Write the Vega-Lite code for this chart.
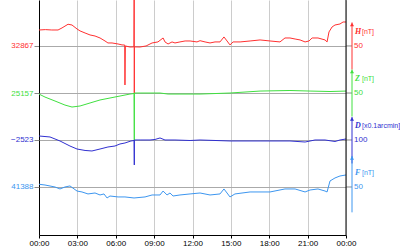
{
  "$schema": "https://vega.github.io/schema/vega-lite/v6.json",
  "width": 307,
  "height": 235,
  "autosize": "none",
  "padding": {"left": 39, "top": 0, "right": 54, "bottom": 15},
  "config": {
    "view": {"stroke": null},
    "font": "Liberation Sans",
    "axis": {"labelFont": "Liberation Sans", "titleFont": "Liberation Sans"}
  },
  "datasets": {
    "H": [
      {"t": 0, "v": 32884.0}, {"t": 0.5, "v": 32884.4}, {"t": 1.0, "v": 32884.0}, {"t": 1.49, "v": 32884.0},
      {"t": 1.8, "v": 32886.2}, {"t": 2.27, "v": 32890.1}, {"t": 2.58, "v": 32889.3}, {"t": 2.97, "v": 32885.1},
      {"t": 3.21, "v": 32883.0}, {"t": 3.6, "v": 32880.8}, {"t": 3.99, "v": 32878.7}, {"t": 4.38, "v": 32877.6},
      {"t": 4.77, "v": 32875.5}, {"t": 5.16, "v": 32872.3}, {"t": 5.39, "v": 32870.2}, {"t": 5.71, "v": 32870.2},
      {"t": 6.18, "v": 32869.1}, {"t": 6.49, "v": 32868.1}, {"t": 6.7, "v": 32868.0}, {"t": 6.72, "v": 32825.5},
      {"t": 6.75, "v": 32867.0}, {"t": 7.11, "v": 32865.9}, {"t": 7.42, "v": 32866.0}, {"t": 7.44, "v": 32925.0},
      {"t": 7.45, "v": 32817.0}, {"t": 7.46, "v": 32866.0}, {"t": 7.9, "v": 32865.9}, {"t": 8.37, "v": 32867.0},
      {"t": 8.84, "v": 32870.2}, {"t": 9.3, "v": 32871.3}, {"t": 9.7, "v": 32875.5}, {"t": 9.85, "v": 32871.3},
      {"t": 10.09, "v": 32869.1}, {"t": 10.4, "v": 32871.3}, {"t": 10.63, "v": 32870.2}, {"t": 11.02, "v": 32871.3},
      {"t": 11.42, "v": 32872.3}, {"t": 11.81, "v": 32872.3}, {"t": 12.35, "v": 32871.3}, {"t": 12.59, "v": 32872.6},
      {"t": 12.98, "v": 32871.3}, {"t": 13.37, "v": 32870.2}, {"t": 13.76, "v": 32871.3}, {"t": 14.15, "v": 32871.3},
      {"t": 14.46, "v": 32876.6}, {"t": 14.7, "v": 32872.3}, {"t": 14.93, "v": 32868.1}, {"t": 15.17, "v": 32871.3},
      {"t": 15.72, "v": 32871.3}, {"t": 16.5, "v": 32872.3}, {"t": 17.28, "v": 32873.4}, {"t": 18.06, "v": 32872.3},
      {"t": 18.84, "v": 32871.3}, {"t": 19.23, "v": 32875.5}, {"t": 19.62, "v": 32875.5}, {"t": 20.02, "v": 32874.4},
      {"t": 20.41, "v": 32873.4}, {"t": 20.8, "v": 32871.3}, {"t": 21.11, "v": 32872.3}, {"t": 21.35, "v": 32875.5},
      {"t": 21.81, "v": 32875.5}, {"t": 22.36, "v": 32873.4}, {"t": 22.52, "v": 32871.3}, {"t": 22.67, "v": 32881.9},
      {"t": 22.91, "v": 32887.2}, {"t": 23.14, "v": 32889.3}, {"t": 23.53, "v": 32890.4}, {"t": 23.77, "v": 32892.5},
      {"t": 24.0, "v": 32892.5}
    ],
    "Z": [
      {"t": 0, "v": 25155.9}, {"t": 0.47, "v": 25152.7}, {"t": 1.25, "v": 25148.5}, {"t": 2.03, "v": 25144.2},
      {"t": 2.58, "v": 25142.1}, {"t": 3.21, "v": 25143.2}, {"t": 3.99, "v": 25146.4}, {"t": 4.77, "v": 25149.6},
      {"t": 5.55, "v": 25151.7}, {"t": 6.33, "v": 25153.8}, {"t": 7.11, "v": 25155.9}, {"t": 7.43, "v": 25156.5},
      {"t": 7.45, "v": 25105.9}, {"t": 7.46, "v": 25157.0}, {"t": 7.9, "v": 25157.0}, {"t": 8.68, "v": 25157.0},
      {"t": 9.46, "v": 25157.0}, {"t": 10.09, "v": 25155.9}, {"t": 11.02, "v": 25155.9}, {"t": 12.59, "v": 25155.9},
      {"t": 14.93, "v": 25157.0}, {"t": 17.28, "v": 25159.1}, {"t": 19.62, "v": 25159.7}, {"t": 21.19, "v": 25159.1},
      {"t": 22.75, "v": 25158.6}, {"t": 24.0, "v": 25159.1}
    ],
    "D": [
      {"t": 0, "v": -2514.5}, {"t": 0.86, "v": -2516.6}, {"t": 1.64, "v": -2525.1}, {"t": 2.42, "v": -2535.8},
      {"t": 2.97, "v": -2542.2}, {"t": 3.6, "v": -2545.3}, {"t": 4.14, "v": -2546.4}, {"t": 4.77, "v": -2542.2},
      {"t": 5.39, "v": -2537.9}, {"t": 5.94, "v": -2535.8}, {"t": 6.33, "v": -2531.5}, {"t": 6.72, "v": -2529.4},
      {"t": 7.19, "v": -2525.1}, {"t": 7.43, "v": -2524.1}, {"t": 7.45, "v": -2576.2}, {"t": 7.46, "v": -2523.0},
      {"t": 7.9, "v": -2523.0}, {"t": 8.68, "v": -2523.0}, {"t": 9.07, "v": -2521.9}, {"t": 9.46, "v": -2518.7},
      {"t": 9.85, "v": -2523.0}, {"t": 10.63, "v": -2523.0}, {"t": 11.81, "v": -2524.1}, {"t": 12.59, "v": -2523.0},
      {"t": 14.93, "v": -2525.1}, {"t": 17.28, "v": -2525.1}, {"t": 19.62, "v": -2525.1}, {"t": 20.8, "v": -2527.3},
      {"t": 21.58, "v": -2523.0}, {"t": 22.36, "v": -2523.0}, {"t": 23.14, "v": -2526.2}, {"t": 23.53, "v": -2523.0},
      {"t": 24.0, "v": -2520.9}
    ],
    "F": [
      {"t": 0, "v": 41390.9}, {"t": 0.47, "v": 41390.1}, {"t": 1.25, "v": 41388.0}, {"t": 1.64, "v": 41385.9},
      {"t": 2.03, "v": 41388.0}, {"t": 2.42, "v": 41389.1}, {"t": 2.97, "v": 41383.7}, {"t": 3.36, "v": 41382.7},
      {"t": 3.83, "v": 41380.6}, {"t": 4.38, "v": 41381.6}, {"t": 4.77, "v": 41379.5}, {"t": 5.08, "v": 41380.6},
      {"t": 5.32, "v": 41376.3}, {"t": 5.55, "v": 41378.4}, {"t": 6.18, "v": 41377.4}, {"t": 6.72, "v": 41377.4},
      {"t": 7.43, "v": 41376.3}, {"t": 8.29, "v": 41377.4}, {"t": 8.84, "v": 41379.5}, {"t": 9.46, "v": 41379.5},
      {"t": 9.7, "v": 41383.7}, {"t": 10.01, "v": 41379.5}, {"t": 10.24, "v": 41381.6}, {"t": 10.48, "v": 41378.4},
      {"t": 11.02, "v": 41379.5}, {"t": 11.81, "v": 41380.6}, {"t": 12.59, "v": 41381.6}, {"t": 13.37, "v": 41379.5},
      {"t": 14.15, "v": 41380.6}, {"t": 14.46, "v": 41385.9}, {"t": 14.7, "v": 41381.6}, {"t": 14.93, "v": 41377.4},
      {"t": 15.32, "v": 41380.6}, {"t": 16.5, "v": 41382.7}, {"t": 18.06, "v": 41382.7}, {"t": 19.23, "v": 41385.9},
      {"t": 20.02, "v": 41385.9}, {"t": 20.8, "v": 41382.7}, {"t": 21.19, "v": 41384.8}, {"t": 21.81, "v": 41385.9},
      {"t": 22.36, "v": 41383.7}, {"t": 22.52, "v": 41382.7}, {"t": 22.75, "v": 41394.4}, {"t": 23.14, "v": 41397.6},
      {"t": 23.53, "v": 41399.7}, {"t": 24.0, "v": 41400.8}
    ]
  },
  "layer": [
    {
      "layer": [
        {
          "data": {"name": "H"},
          "mark": {"type": "line", "color": "#ff3030", "strokeWidth": 1, "clip": true},
          "encoding": {
            "x": {"field": "t", "type": "quantitative", "scale": {"domain": [0, 24], "nice": false, "zero": false},
              "axis": {"values": [0, 3, 6, 9, 12, 15, 18, 21, 24], "tickCount": 24, "labelExpr": "(datum.value % 24 < 10 ? '0' : '') + (datum.value % 24) + ':00'",
                "title": null, "grid": true, "gridColor": "#cccccc", "domainColor": "#000000", "tickColor": "#000000", "tickSize": 3,
                "labelFontSize": 8, "labelColor": "#000000", "labelPadding": 1, "labelFlush": false, "labelOverlap": false}},
            "y": {"field": "v", "type": "quantitative", "scale": {"domain": [32665.9, 32915.9], "nice": false, "zero": false},
              "axis": {"orient": "left", "values": [32867], "format": "d", "title": null, "grid": true, "gridColor": "#aaaaaa",
                "domain": true, "domainColor": "#000000", "tickColor": "#888888", "tickSize": 5, "labelColor": "#ff3030",
                "labelFontSize": 8, "labelPadding": 1}}
          }
        },
        {
          "data": {"values": [{"base": 32867, "lo": 32842, "hi": 32892, "scale": "50", "sym": "H", "unit": "[nT]"}]},
          "layer": [
            {"mark": {"type": "rule", "color": "#888888", "x2Offset": 6, "clip": false},
              "encoding": {"x": {"datum": 24, "type": "quantitative"}, "x2": {"datum": 24}, "y": {"field": "base", "type": "quantitative"}}},
            {"mark": {"type": "rule", "color": "#ff3030", "xOffset": 6, "clip": false},
              "encoding": {"x": {"datum": 24, "type": "quantitative"}, "y": {"field": "lo", "type": "quantitative"}, "y2": {"field": "hi"}}},
            {"mark": {"type": "point", "shape": "triangle-up", "filled": true, "opacity": 1, "size": 16, "color": "#ff3030", "xOffset": 6, "yOffset": 2, "clip": false},
              "encoding": {"x": {"datum": 24, "type": "quantitative"}, "y": {"field": "hi", "type": "quantitative"}}},
            {"mark": {"type": "text", "color": "#ff3030", "align": "left", "baseline": "middle", "dx": 9, "dy": -14, "font": "Liberation Serif", "fontStyle": "italic", "fontWeight": "bold", "fontSize": 8, "clip": false},
              "encoding": {"x": {"datum": 24, "type": "quantitative"}, "y": {"field": "base", "type": "quantitative"}, "text": {"field": "sym"}}},
            {"mark": {"type": "text", "color": "#ff3030", "align": "left", "baseline": "middle", "dx": 16, "dy": -14, "fontSize": 7, "clip": false},
              "encoding": {"x": {"datum": 24, "type": "quantitative"}, "y": {"field": "base", "type": "quantitative"}, "text": {"field": "unit"}}},
            {"mark": {"type": "text", "color": "#ff3030", "align": "left", "baseline": "middle", "dx": 8, "fontSize": 8, "clip": false},
              "encoding": {"x": {"datum": 24, "type": "quantitative"}, "y": {"field": "base", "type": "quantitative"}, "text": {"field": "scale"}}}
          ]
        }
      ]
    },
    {
      "layer": [
        {
          "data": {"name": "Z"},
          "mark": {"type": "line", "color": "#40e040", "strokeWidth": 1, "clip": true},
          "encoding": {
            "x": {"field": "t", "type": "quantitative"},
            "y": {"field": "v", "type": "quantitative", "scale": {"domain": [25005.9, 25256.0], "nice": false, "zero": false},
              "axis": {"orient": "left", "values": [25157], "format": "d", "title": null, "grid": true, "gridColor": "#aaaaaa",
                "domain": false, "tickColor": "#888888", "tickSize": 5, "labelColor": "#40e040", "labelFontSize": 8, "labelPadding": 1}}
          }
        },
        {
          "data": {"values": [{"base": 25157, "lo": 25132, "hi": 25182, "scale": "50", "sym": "Z", "unit": "[nT]"}]},
          "layer": [
            {"mark": {"type": "rule", "color": "#888888", "x2Offset": 6, "clip": false},
              "encoding": {"x": {"datum": 24, "type": "quantitative"}, "x2": {"datum": 24}, "y": {"field": "base", "type": "quantitative"}}},
            {"mark": {"type": "rule", "color": "#40e040", "xOffset": 6, "clip": false},
              "encoding": {"x": {"datum": 24, "type": "quantitative"}, "y": {"field": "lo", "type": "quantitative"}, "y2": {"field": "hi"}}},
            {"mark": {"type": "point", "shape": "triangle-up", "filled": true, "opacity": 1, "size": 16, "color": "#40e040", "xOffset": 6, "yOffset": 2, "clip": false},
              "encoding": {"x": {"datum": 24, "type": "quantitative"}, "y": {"field": "hi", "type": "quantitative"}}},
            {"mark": {"type": "text", "color": "#40e040", "align": "left", "baseline": "middle", "dx": 9, "dy": -14, "font": "Liberation Serif", "fontStyle": "italic", "fontWeight": "bold", "fontSize": 8, "clip": false},
              "encoding": {"x": {"datum": 24, "type": "quantitative"}, "y": {"field": "base", "type": "quantitative"}, "text": {"field": "sym"}}},
            {"mark": {"type": "text", "color": "#40e040", "align": "left", "baseline": "middle", "dx": 16, "dy": -14, "fontSize": 7, "clip": false},
              "encoding": {"x": {"datum": 24, "type": "quantitative"}, "y": {"field": "base", "type": "quantitative"}, "text": {"field": "unit"}}},
            {"mark": {"type": "text", "color": "#40e040", "align": "left", "baseline": "middle", "dx": 8, "fontSize": 8, "clip": false},
              "encoding": {"x": {"datum": 24, "type": "quantitative"}, "y": {"field": "base", "type": "quantitative"}, "text": {"field": "scale"}}}
          ]
        }
      ]
    },
    {
      "layer": [
        {
          "data": {"name": "D"},
          "mark": {"type": "line", "color": "#3030d0", "strokeWidth": 1, "clip": true},
          "encoding": {
            "x": {"field": "t", "type": "quantitative"},
            "y": {"field": "v", "type": "quantitative", "scale": {"domain": [-2725.2, -2225.1], "nice": false, "zero": false},
              "axis": {"orient": "left", "values": [-2523], "format": "d", "title": null, "grid": true, "gridColor": "#aaaaaa",
                "domain": false, "tickColor": "#888888", "tickSize": 5, "labelColor": "#3030d0", "labelFontSize": 8, "labelPadding": 1}}
          }
        },
        {
          "data": {"values": [{"base": -2523, "lo": -2573, "hi": -2474, "scale": "100", "sym": "D", "unit": "[x0.1arcmin]"}]},
          "layer": [
            {"mark": {"type": "rule", "color": "#888888", "x2Offset": 6, "clip": false},
              "encoding": {"x": {"datum": 24, "type": "quantitative"}, "x2": {"datum": 24}, "y": {"field": "base", "type": "quantitative"}}},
            {"mark": {"type": "rule", "color": "#3030d0", "xOffset": 6, "clip": false},
              "encoding": {"x": {"datum": 24, "type": "quantitative"}, "y": {"field": "lo", "type": "quantitative"}, "y2": {"field": "hi"}}},
            {"mark": {"type": "point", "shape": "triangle-up", "filled": true, "opacity": 1, "size": 16, "color": "#3030d0", "xOffset": 6, "yOffset": 2, "clip": false},
              "encoding": {"x": {"datum": 24, "type": "quantitative"}, "y": {"field": "hi", "type": "quantitative"}}},
            {"mark": {"type": "text", "color": "#3030d0", "align": "left", "baseline": "middle", "dx": 9, "dy": -14, "font": "Liberation Serif", "fontStyle": "italic", "fontWeight": "bold", "fontSize": 8, "clip": false},
              "encoding": {"x": {"datum": 24, "type": "quantitative"}, "y": {"field": "base", "type": "quantitative"}, "text": {"field": "sym"}}},
            {"mark": {"type": "text", "color": "#3030d0", "align": "left", "baseline": "middle", "dx": 16, "dy": -14, "fontSize": 7, "clip": false},
              "encoding": {"x": {"datum": 24, "type": "quantitative"}, "y": {"field": "base", "type": "quantitative"}, "text": {"field": "unit"}}},
            {"mark": {"type": "text", "color": "#3030d0", "align": "left", "baseline": "middle", "dx": 8, "fontSize": 8, "clip": false},
              "encoding": {"x": {"datum": 24, "type": "quantitative"}, "y": {"field": "base", "type": "quantitative"}, "text": {"field": "scale"}}}
          ]
        }
      ]
    },
    {
      "layer": [
        {
          "data": {"name": "F"},
          "mark": {"type": "line", "color": "#3c96f0", "strokeWidth": 1, "clip": true},
          "encoding": {
            "x": {"field": "t", "type": "quantitative"},
            "y": {"field": "v", "type": "quantitative", "scale": {"domain": [41336.9, 41587.0], "nice": false, "zero": false},
              "axis": {"orient": "left", "values": [41388], "format": "d", "title": null, "grid": true, "gridColor": "#aaaaaa",
                "domain": false, "tickColor": "#888888", "tickSize": 5, "labelColor": "#3c96f0", "labelFontSize": 8, "labelPadding": 1}}
          }
        },
        {
          "data": {"values": [{"base": 41388, "lo": 41361, "hi": 41421, "scale": "50", "sym": "F", "unit": "[nT]"}]},
          "layer": [
            {"mark": {"type": "rule", "color": "#888888", "x2Offset": 6, "clip": false},
              "encoding": {"x": {"datum": 24, "type": "quantitative"}, "x2": {"datum": 24}, "y": {"field": "base", "type": "quantitative"}}},
            {"mark": {"type": "rule", "color": "#3c96f0", "xOffset": 6, "clip": false},
              "encoding": {"x": {"datum": 24, "type": "quantitative"}, "y": {"field": "lo", "type": "quantitative"}, "y2": {"field": "hi"}}},
            {"mark": {"type": "point", "shape": "triangle-up", "filled": true, "opacity": 1, "size": 16, "color": "#3c96f0", "xOffset": 6, "yOffset": 2, "clip": false},
              "encoding": {"x": {"datum": 24, "type": "quantitative"}, "y": {"field": "hi", "type": "quantitative"}}},
            {"mark": {"type": "text", "color": "#3c96f0", "align": "left", "baseline": "middle", "dx": 9, "dy": -14, "font": "Liberation Serif", "fontStyle": "italic", "fontWeight": "bold", "fontSize": 8, "clip": false},
              "encoding": {"x": {"datum": 24, "type": "quantitative"}, "y": {"field": "base", "type": "quantitative"}, "text": {"field": "sym"}}},
            {"mark": {"type": "text", "color": "#3c96f0", "align": "left", "baseline": "middle", "dx": 16, "dy": -14, "fontSize": 7, "clip": false},
              "encoding": {"x": {"datum": 24, "type": "quantitative"}, "y": {"field": "base", "type": "quantitative"}, "text": {"field": "unit"}}},
            {"mark": {"type": "text", "color": "#3c96f0", "align": "left", "baseline": "middle", "dx": 8, "fontSize": 8, "clip": false},
              "encoding": {"x": {"datum": 24, "type": "quantitative"}, "y": {"field": "base", "type": "quantitative"}, "text": {"field": "scale"}}}
          ]
        }
      ]
    },
    {
      "data": {"values": [{"edge": 24}]},
      "mark": {"type": "rule", "color": "#000000", "strokeWidth": 1},
      "encoding": {"x": {"field": "edge", "type": "quantitative"}}
    }
  ],
  "resolve": {"scale": {"y": "independent"}, "axis": {"y": "independent"}}
}
